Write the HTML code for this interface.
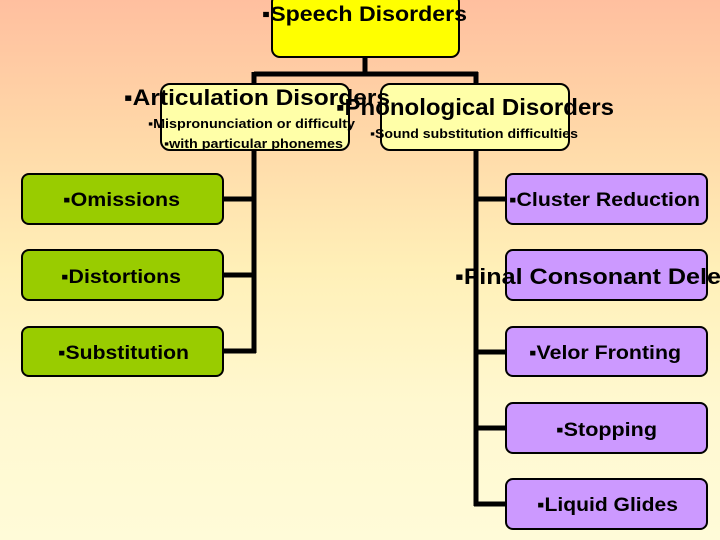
<!DOCTYPE html>
<html><head><meta charset="utf-8"><style>
html,body{margin:0;padding:0;width:720px;height:540px;overflow:hidden}
body{background:linear-gradient(to bottom,#ffbf9f 0%,#ffd8a8 25%,#fff0b8 50%,#fff8d0 75%,#fffbd8 100%)}
svg{display:block}
text{font-family:"Liberation Sans",Arial,sans-serif;font-weight:bold;fill:#000}
</style></head><body>
<svg width="720" height="540" viewBox="0 0 720 540">
<g stroke="#000" stroke-width="5" fill="none">
<path d="M365 57 V74 M254 74 H478 M254 72 V353 M476 72 V506"/>
<path d="M223 199 H256 M223 275 H256 M223 351 H256"/>
<path d="M474 199 H506 M474 352 H506 M474 428 H506 M474 504 H506"/>
</g>
<g stroke="#000" stroke-width="2">
<rect x="272" y="-6" width="187" height="63" rx="8" fill="#ffff00"/>
<rect x="161" y="84" width="188" height="66" rx="9" fill="#ffffa8"/>
<rect x="381" y="84" width="188" height="66" rx="9" fill="#ffffa8"/>
<g fill="#99cc00">
<rect x="22" y="174" width="201" height="50" rx="7"/>
<rect x="22" y="250" width="201" height="50" rx="7"/>
<rect x="22" y="327" width="201" height="49" rx="7"/>
</g>
<g fill="#cc99ff">
<rect x="506" y="174" width="201" height="50" rx="7"/>
<rect x="506" y="250" width="201" height="50" rx="7"/>
<rect x="506" y="327" width="201" height="49" rx="7"/>
<rect x="506" y="403" width="201" height="50" rx="7"/>
<rect x="506" y="479" width="201" height="50" rx="7"/>
</g>
</g>
<text x="262" y="21" font-size="21" textLength="205" lengthAdjust="spacingAndGlyphs">▪Speech Disorders</text>
<text x="124" y="105" font-size="22" textLength="266" lengthAdjust="spacingAndGlyphs">▪Articulation Disorders</text>
<text x="336" y="115" font-size="23" textLength="278" lengthAdjust="spacingAndGlyphs">▪Phonological Disorders</text>
<text x="148" y="128" font-size="13" textLength="207" lengthAdjust="spacingAndGlyphs">▪Mispronunciation or difficulty</text>
<text x="164" y="148" font-size="13" textLength="179" lengthAdjust="spacingAndGlyphs">▪with particular phonemes</text>
<text x="370" y="138" font-size="13" textLength="208" lengthAdjust="spacingAndGlyphs">▪Sound substitution difficulties</text>
<text x="63" y="206" font-size="19" textLength="117" lengthAdjust="spacingAndGlyphs">▪Omissions</text>
<text x="61" y="283" font-size="19" textLength="120" lengthAdjust="spacingAndGlyphs">▪Distortions</text>
<text x="58" y="359" font-size="19" textLength="131" lengthAdjust="spacingAndGlyphs">▪Substitution</text>
<text x="509" y="206" font-size="19" textLength="191" lengthAdjust="spacingAndGlyphs">▪Cluster Reduction</text>
<text x="455" y="284" font-size="22" textLength="312" lengthAdjust="spacingAndGlyphs">▪Final Consonant Deletion</text>
<text x="529" y="359" font-size="19" textLength="152" lengthAdjust="spacingAndGlyphs">▪Velor Fronting</text>
<text x="556" y="436" font-size="19" textLength="101" lengthAdjust="spacingAndGlyphs">▪Stopping</text>
<text x="537" y="511" font-size="19" textLength="141" lengthAdjust="spacingAndGlyphs">▪Liquid Glides</text>
</svg>
</body></html>
